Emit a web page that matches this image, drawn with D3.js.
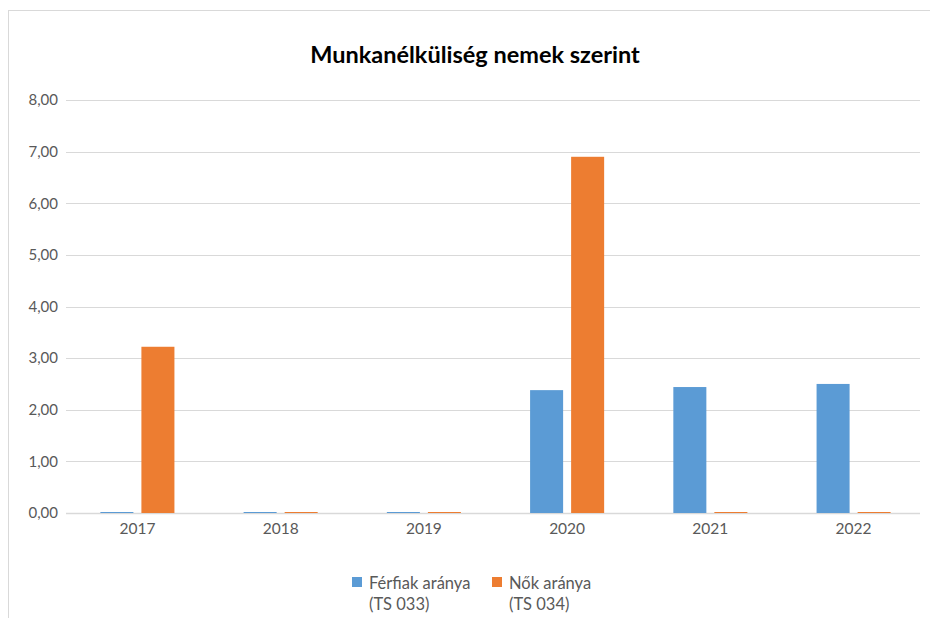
<!DOCTYPE html>
<html>
<head>
<meta charset="utf-8">
<script src="https://cdn.jsdelivr.net/npm/d3@7"></script>
<style>
  body { margin: 0; background: #fff; }
  svg { font-family: Lato, "Open Sans", sans-serif; }
</style>
</head>
<body>
<svg id="chart" width="930" height="618"></svg>
<script>
// Data
const years = ["2017", "2018", "2019", "2020", "2021", "2022"];
const ferfiak = [0, 0, 0, 2.38, 2.44, 2.50];
const nok = [3.22, 0, 0, 6.90, 0, 0];
const yTicks = [0, 1, 2, 3, 4, 5, 6, 7, 8];
const seriesNames = [["Férfiak aránya", "(TS 033)"], ["Nők aránya", "(TS 034)"]];
const colors = ["#5b9bd5", "#ed7d31"];

const svg = d3.select("#chart");

// chart frame
svg.append("rect")
  .attr("x", 8.5).attr("y", 10.5)
  .attr("width", 940).attr("height", 620)
  .attr("fill", "none")
  .attr("stroke", "#d9d9d9");

const margin = { top: 100, left: 66, right: 10, bottom: 105 };
const width = 930 - margin.left - margin.right;
const height = 618 - margin.top - margin.bottom;

const g = svg.append("g")
  .attr("transform", `translate(${ margin.left }, ${ margin.top })`);

// bands for the years (a bit wider than the gridlines, as in the reference)
const x = d3.scaleBand()
  .domain(years)
  .range([0, 859])
  .paddingInner(0.483)
  .paddingOuter(0.24);

const x1 = d3.scaleBand()
  .domain([0, 1])
  .range([0, x.bandwidth()])
  .paddingInner(0.195);

const y = d3.scaleLinear()
  .domain([0, 8])
  .range([height, 0]);

// Gridlines
g.selectAll(".grid")
  .data(yTicks)
  .enter()
  .append("line")
  .attr("x1", 0)
  .attr("x2", width)
  .attr("y1", d => Math.round(y(d)) + 0.5)
  .attr("y2", d => Math.round(y(d)) + 0.5)
  .attr("stroke", "#d9d9d9")
  .attr("stroke-width", d => d === 0 ? 1.5 : 1);

// Y labels
const yAxis = d3.axisLeft(y)
  .tickValues(yTicks)
  .tickSize(0)
  .tickPadding(8)
  .tickFormat(d => d3.format(".2f")(d).replace(".", ","));

g.append("g")
  .call(yAxis)
  .call(a => a.select(".domain").remove())
  .selectAll("text")
  .attr("font-family", "Lato, sans-serif")
  .attr("font-size", "15px")
  .attr("fill", "#595959");

// X labels
const xAxis = d3.axisBottom(x)
  .tickSize(0)
  .tickPadding(10);

g.append("g")
  .attr("transform", `translate(0, ${ height })`)
  .call(xAxis)
  .call(a => a.select(".domain").remove())
  .selectAll("text")
  .attr("font-family", "Lato, sans-serif")
  .attr("font-size", "15.5px")
  .attr("fill", "#595959");

// Bars (zero values drawn as a thin line, like the reference)
[ferfiak, nok].forEach((series, i) => {
  g.selectAll(".bar" + i)
    .data(series)
    .enter()
    .append("rect")
    .attr("x", (d, j) => x(years[j]) + x1(i))
    .attr("width", x1.bandwidth())
    .attr("y", d => d === 0 ? y(0) - 1 : y(d))
    .attr("height", d => d === 0 ? 1 : y(0) - y(d))
    .attr("fill", colors[i]);
});

// Title
svg.append("text")
  .attr("x", 475)
  .attr("y", 63)
  .attr("text-anchor", "middle")
  .attr("font-size", "23.5px")
  .attr("font-weight", "bold")
  .attr("fill", "#000")
  .text("Munkanélküliség nemek szerint");

// Legend
const legendX = [352, 492];
seriesNames.forEach((name, i) => {
  const lg = svg.append("g")
    .attr("transform", `translate(${ legendX[i] }, 577)`);
  lg.append("rect")
    .attr("width", 10).attr("height", 10)
    .attr("fill", colors[i]);
  lg.append("text")
    .attr("x", 17).attr("y", 12)
    .attr("font-size", "16.5px")
    .attr("fill", "#595959")
    .text(name[0]);
  lg.append("text")
    .attr("x", 17).attr("y", 33)
    .attr("font-size", "16.5px")
    .attr("fill", "#595959")
    .text(name[1]);
});
</script>
</body>
</html>
